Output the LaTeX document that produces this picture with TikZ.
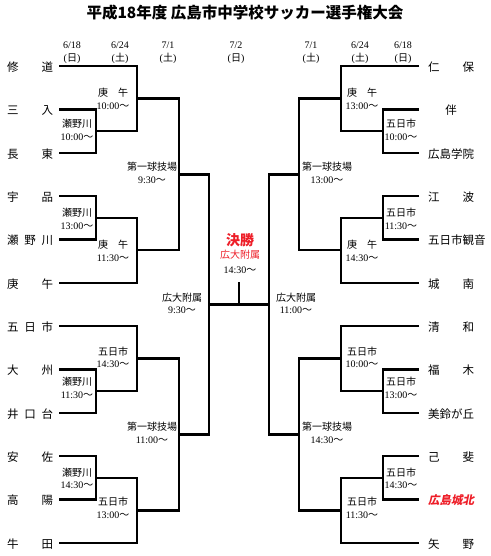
\documentclass[tikz,border=0pt]{standalone}
\usepackage{fontspec}
\newfontfamily\cjk{Noto Sans CJK JP}
\newfontfamily\cjkslant[FakeSlant=0.2]{Noto Sans CJK JP}
\newfontfamily\tms{Liberation Serif}
\definecolor{winred}{RGB}{238,30,40}
\newcommand\tmx[1]{{\tms #1}{\cjk 〜}}
\newcommand\nm[1]{\makebox[46pt][l]{#1}}
\newcommand\dt[2]{{\tms #1}\\{\tms(}{\cjk #2}{\tms)}}
\tikzset{
  br/.style={line width=2.3pt},
  team/.style={font=\cjk\fontsize{11.5}{13}\selectfont, inner sep=0pt, anchor=west},
  lab/.style={font=\cjk\fontsize{10}{12.8}\selectfont, align=center, inner sep=0pt},
  datehd/.style={font=\tms\fontsize{10}{12.6}\selectfont, align=center, inner sep=0pt},
}
\begin{document}
\begin{tikzpicture}[x=1pt,y=-1pt]
\path[fill=white] (0,0) rectangle (490,556);
\useasboundingbox (0,0) rectangle (490,556);

% title
\node[inner sep=0pt] (title) at (245,12.5) {\cjk\bfseries\fontsize{15.5}{18}\selectfont 平成18年度 広島市中学校サッカー選手権大会};

% dates
\node[datehd] (d1) at (72,53) {\dt{6/18}{日}};
\node[datehd] (d2) at (120,53) {\dt{6/24}{土}};
\node[datehd] (d3) at (168,53) {\dt{7/1}{土}};
\node[datehd] (d4) at (236,53) {\dt{7/2}{日}};
\node[datehd] (d5) at (311,53) {\dt{7/1}{土}};
\node[datehd] (d6) at (360,53) {\dt{6/24}{土}};
\node[datehd] (d7) at (403,53) {\dt{6/18}{日}};

% left teams
\node[team] (nL0) at (7,67) {\nm{修\hfill 道}};
\node[team] (nL1) at (7,110.4) {\nm{三\hfill 入}};
\node[team] (nL2) at (7,153.7) {\nm{長\hfill 東}};
\node[team] (nL3) at (7,197.1) {\nm{宇\hfill 品}};
\node[team] (nL4) at (7,240.4) {\nm{瀬\hfill 野\hfill 川}};
\node[team] (nL5) at (7,283.8) {\nm{庚\hfill 午}};
\node[team] (nL6) at (7,327.1) {\nm{五\hfill 日\hfill 市}};
\node[team] (nL7) at (7,370.5) {\nm{大\hfill 州}};
\node[team] (nL8) at (7,413.8) {\nm{井\hfill 口\hfill 台}};
\node[team] (nL9) at (7,457.2) {\nm{安\hfill 佐}};
\node[team] (nL10) at (7,500.5) {\nm{高\hfill 陽}};
\node[team] (nL11) at (7,543.9) {\nm{牛\hfill 田}};

% right teams
\node[team] (nR0) at (428,67) {\nm{仁\hfill 保}};
\node[team] (nR1) at (428,110.4) {\nm{\hfill 伴\hfill}};
\node[team] (nR2) at (428,153.7) {\nm{広島学院}};
\node[team] (nR3) at (428,197.1) {\nm{江\hfill 波}};
\node[team] (nR4) at (428,240.4) {\nm{五日市観音}};
\node[team] (nR5) at (428,283.8) {\nm{城\hfill 南}};
\node[team] (nR6) at (428,327.1) {\nm{清\hfill 和}};
\node[team] (nR7) at (428,370.5) {\nm{福\hfill 木}};
\node[team] (nR8) at (428,413.8) {\nm{美鈴が丘}};
\node[team] (nR9) at (428,457.2) {\nm{己\hfill 斐}};
\node[team, text=winred] (nR10) at (428,500.5) {\nm{\cjkslant\bfseries 広島城北}};
\node[team] (nR11) at (428,543.9) {\nm{矢\hfill 野}};

% line ends
\foreach \i/\y in {0/66,1/109.4,2/152.7,3/196.1,4/239.4,5/282.8,6/326.1,7/369.5,8/412.8,9/456.2,10/499.5,11/542.9}{
  \coordinate (aL\i) at (59,\y);
  \coordinate (aR\i) at (419,\y);
}
% match points
\foreach \s/\xa/\xb/\xc/\xd in {L/96/137/179/209, R/383/341/299/269}{
  \coordinate (m\s1) at (\xa,131.05);
  \coordinate (q\s0) at (\xb,98.5);
  \coordinate (m\s2) at (\xa,217.75);
  \coordinate (q\s1) at (\xb,250.3);
  \coordinate (s\s0) at (\xc,174.4);
  \coordinate (m\s3) at (\xa,391.15);
  \coordinate (q\s2) at (\xb,358.6);
  \coordinate (m\s4) at (\xa,477.85);
  \coordinate (q\s3) at (\xb,510.4);
  \coordinate (s\s1) at (\xc,434.5);
  \coordinate (f\s) at (\xd,304.45);
}
\coordinate (finT) at (239,282);
\coordinate (finB) at (239,304.45);

% brackets
\foreach \s in {L,R}{
  \draw[br] (a\s1) -| (m\s1) |- (a\s2);
  \draw[br] (a\s0) -| (q\s0) |- (m\s1);
  \draw[br] (a\s3) -| (m\s2) |- (a\s4);
  \draw[br] (m\s2) -| (q\s1) |- (a\s5);
  \draw[br] (q\s0) -| (s\s0) |- (q\s1);
  \draw[br] (a\s7) -| (m\s3) |- (a\s8);
  \draw[br] (a\s6) -| (q\s2) |- (m\s3);
  \draw[br] (a\s9) -| (m\s4) |- (a\s10);
  \draw[br] (m\s4) -| (q\s3) |- (a\s11);
  \draw[br] (q\s2) -| (s\s1) |- (q\s3);
  \draw[br] (s\s0) -| (f\s) |- (s\s1);
}
\draw[br] (fL) -- (fR);
\draw[br] (finT) -- (finB);

% left labels
\node[lab] (lm1) at (77,129.5) {瀬野川\\\tmx{10:00}};
\node[lab] (lm2) at (77,219) {瀬野川\\\tmx{13:00}};
\node[lab] (lm3) at (77,388) {瀬野川\\\tmx{11:30}};
\node[lab] (lm4) at (77,478.4) {瀬野川\\\tmx{14:30}};
\node[lab] (lq0) at (113,99) {庚　午\\\tmx{10:00}};
\node[lab] (lq1) at (113,250.5) {庚　午\\\tmx{11:30}};
\node[lab] (lq2) at (113,357.4) {五日市\\\tmx{14:30}};
\node[lab] (lq3) at (113,508) {五日市\\\tmx{13:00}};
\node[lab] (ls0) at (152,172.5) {第一球技場\\\tmx{9:30}};
\node[lab] (ls1) at (152,433) {第一球技場\\\tmx{11:00}};
\node[lab] (lf) at (182,303.4) {広大附属\\\tmx{9:30}};

% right labels
\node[lab] (rm1) at (401,129.5) {五日市\\\tmx{10:00}};
\node[lab] (rm2) at (401,219) {五日市\\\tmx{11:30}};
\node[lab] (rm3) at (401,388) {五日市\\\tmx{13:00}};
\node[lab] (rm4) at (401,478.4) {五日市\\\tmx{14:30}};
\node[lab] (rq0) at (362,99) {庚　午\\\tmx{13:00}};
\node[lab] (rq1) at (362,250.5) {庚　午\\\tmx{14:30}};
\node[lab] (rq2) at (362,357.4) {五日市\\\tmx{10:00}};
\node[lab] (rq3) at (362,508) {五日市\\\tmx{11:30}};
\node[lab] (rs0) at (327,172.5) {第一球技場\\\tmx{13:00}};
\node[lab] (rs1) at (327,433) {第一球技場\\\tmx{14:30}};
\node[lab] (rf) at (296,303.4) {広大附属\\\tmx{11:00}};

% final
\node[inner sep=0pt, text=winred, font=\cjk\bfseries\fontsize{14}{16}\selectfont] (fin1) at (240,240) {決勝};
\node[inner sep=0pt, text=winred, font=\cjk\fontsize{10}{12}\selectfont] (fin2) at (240,255) {広大附属};
\node[lab] (fin3) at (240,270.7) {\tmx{14:30}};
\end{tikzpicture}
\end{document}
